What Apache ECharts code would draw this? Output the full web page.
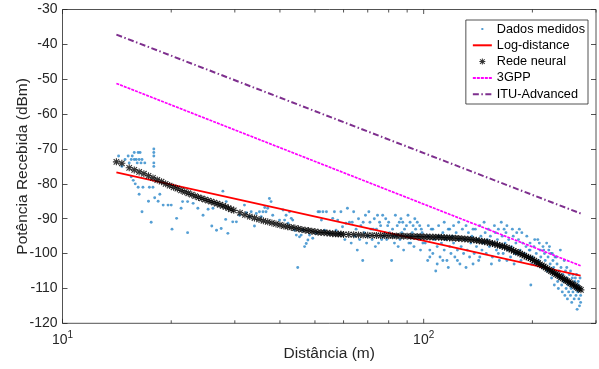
<!DOCTYPE html>
<html><head><meta charset="utf-8">
<script src="https://cdn.jsdelivr.net/npm/echarts@6/dist/echarts.min.js"></script>
<style>html,body{margin:0;padding:0;background:#fff}#c{width:599px;height:369px}</style>
</head><body><div id="c"></div>
<script>
// ---------------- data ----------------
const measuredPoints = [
 [14.3,-72],[14.6,-75],[14.9,-73],[15.2,-72],[15.3,-74],[15.5,-73],[15.5,-78],[15.6,-72],[15.7,-79],[15.8,-73],[15.8,-71],[15.9,-80],[16.0,-73],[16.1,-74],[16.2,-81],[16.2,-71],[16.3,-73],[16.3,-83],[16.4,-71],[16.5,-74],[16.6,-73],[16.6,-88],[16.7,-81],[16.9,-74],[17.3,-85],[17.4,-81],[17.6,-91],[17.8,-81],[17.9,-70],[17.9,-71],[17.9,-72],[17.9,-74],[17.9,-75],[18.0,-84],[18.4,-85],[18.6,-83],
 [19.0,-86.1],[19.6,-86.1],[20.0,-86.1],[20.1,-93.0],[20.7,-89.9],[21.3,-87.0],[21.5,-85.1],[22.2,-85.1],[22.2,-94.0],[23.0,-85.6],[23.7,-87.0],[24.5,-89.0],[25.3,-87.3],[26.1,-87.0],[25.9,-92.1],[26.7,-93.3],[27.5,-92.8],[27.8,-82.1],[28.3,-90.2],[28.4,-85.1],[28.7,-94.2],[29.6,-90.9],[30.3,-90.9],[30.9,-89.0],[31.9,-86.1],[32.3,-88.3],[32.9,-89.4],[33.3,-88.0],[34.0,-92.1],[34.4,-88.5],[35.1,-88.0],[35.5,-89.4],[35.9,-88.0],[36.3,-86.8],[36.6,-88.0],[37.0,-87.0],[37.4,-84.2],[37.8,-85.1],[38.2,-89.0],[39.9,-90.4],[40.8,-87.5],[41.2,-90.4],[41.6,-89.0],[42.1,-91.3],[42.5,-88.0],[43.0,-89.9],[43.4,-90.4],[43.9,-93.3],[44.4,-94.7],[44.8,-104.0],[45.3,-95.2],[45.8,-94.7],[46.3,-93.3],[46.8,-98.0],[47.3,-97.1],[47.8,-96.1],[48.3,-94.7],[49.3,-95.6],[50.4,-94.2],[51.0,-88.0],[51.5,-88.0],[52.1,-90.4],[52.6,-88.0],[53.2,-93.3],[53.8,-88.0],[54.8,-94.2],[56.0,-89.9],[56.6,-88.0],[57.2,-93.3],[57.8,-90.4],[58.4,-94.2],[59.0,-88.0],[59.6,-92.3],[60.9,-91.3],[61.5,-87.0],
 [62.3,-91],[63.4,-91],[64,-88],[64.5,-95],[65,-93],[66,-90],[66.5,-96],[67,-92],[67.8,-102],[68.5,-94],[69,-89],[69.5,-97],[70,-95],[71,-91],[71.5,-93],[72,-96],[73,-90],[73.5,-98],[74,-93],[75,-97],[75.5,-91],[76,-92],[77,-89],[77.5,-95],[78,-94],[79,-96],[79.5,-92],[80,-91],[81.5,-102],[82,-93],[82.5,-95],[83,-97],[84,-95],[84.5,-92],[85.6,-91],[86,-96],[87,-94],[87.5,-91],[88,-99],[89.6,-92],[90,-95],[91,-97],[91.7,-91],[92,-97],[93,-94],[93.5,-92],[94,-98],[95,-93],[96,-91],[96.5,-95],[97,-96],[98,-99],[98.5,-93],[99,-94],
 [60.5,-96],[63,-97],[65.5,-99],[68,-91],[70.5,-88],[72.5,-93],[74.5,-89],[76.5,-96],[78.5,-90],[80.5,-94],[83.5,-89],[85,-98],[86.5,-90],[88.5,-93],[90.5,-89],[92.5,-95],[94.5,-90],[97.5,-92],[99.5,-97],
 [101,-97],[102.6,-102],[103,-95],[104,-99],[105,-93],[106,-100],[107,-96],[108,-105],[109,-98],[110,-95],[111,-101],[112,-97],[113,-94],[114,-99],[115,-96],[116,-102],[117,-93],[118,-98],[119,-100],[120,-95],[121,-97],[122,-101],[123,-94],[124,-99],[125,-96],[126,-103],[127,-98],[128,-93],[129,-100],[130,-96],[132,-99],[133,-94],[134,-101],[135,-97],[136,-95],[138,-100],[139,-93],[140,-98],[141,-96],[142,-102],[144,-95],[145,-99],[146,-97],[148,-94],[149,-100],[150,-96],[152,-98],[153,-95],[155,-101],[156,-97],[158,-94],[159,-99],[160,-96],[162,-102],[163,-98],[165,-95],[166,-100],[168,-97],[169,-94],[171,-99],[172,-96],[174,-101],[175,-98],[177,-95],[178,-103],[180,-97],[182,-100],[183,-96],[185,-99],[186,-102],[188,-97],[190,-100],[192,-98],[193,-95],[195,-101],[197,-99],[199,-103],
 [103,-92],[106,-93],[110,-92],[114,-91],[118,-93],[121,-92],[125,-91],[131,-92],[137,-93],[143,-92],[147,-91],[151,-93],[157,-92],[161,-93],[164,-91],[167,-93],[170,-92],[176,-93],[181,-94],[184,-93],[187,-94],
 [104,-101],[109,-103],[113,-102],[117,-104],[124,-102],[131,-104],[137,-103],[143,-101],[154,-103],[161,-100],[170,-102],[179,-100],
 [196,-99],[197,-97],[198,-109],[200,-101],[202,-98],[204,-103],[205,-100],[207,-96],[208,-102],[210,-99],[211,-101],[213,-104],[214,-98],[216,-100],[217,-102],[219,-97],[220,-105],[221,-101],[222,-99],[224,-103],[225,-100],[226,-107],[228,-102],[229,-104],[230,-109],[231,-101],[232,-106],[234,-103],[235,-108],[236,-110],[237,-105],[238,-107],[240,-104],[241,-109],[242,-111],[243,-106],[244,-108],[246,-112],[247,-105],[248,-110],[249,-107],[250,-113],[251,-109],[252,-111],[253,-106],[254,-108],[255,-112],[256,-110],[257,-114],[258,-107],[259,-111],[260,-109],[261,-113],[262,-108],[263,-110],[264,-112],[265,-106],[266,-116],[267,-111],[268,-109],[269,-113],[270,-115],[271,-110],[272,-112],[272,-114],
 [203,-96],[209,-97],[215,-99],[223,-98],[227,-100],[233,-101],[239,-99],[245,-102],[249,-104],[255,-105],[259,-106],[263,-107],[268,-108],[271,-107]
];

const neuralDist = [
 14.1,14.6,
 15.3,15.8,16.3,16.8,17.3,17.8,18.3,18.8,19.3,19.8,20.3,20.8,21.3,21.8,22.3,22.8,23.3,23.8,24.3,24.8,25.3,25.8,26.3,26.8,27.3,27.8,28.3,28.8,29.3,29.8,
 31,32,33,34,35,36,37,38,39,40,41,42,43,44,45,46,47,48,49,50,51,52,53,54,55,56,57,58,59,60,
 62,64,66,68,70,72,74,76,78,80,82,84,86,88,90,92,94,96,98,100,102,104,106,108,110,112,114,116,118,120,
 122.5,125,127.5,130,132.5,135,137.5,140,142.5,145,147.5,150,152.5,155,157.5,160,162.5,165,167.5,170,172.5,175,177.5,180,182.5,185,187.5,190,192.5,195,197.5,200,202.5,205,207.5,210,212.5,215,217.5,220,222.5,225,227.5,230,232.5,235,237.5,240,242.5,245,247.5,250,252.5,255,257.5,260,262.5,265,267.5,270,272.5
];
const neuralPow = [
 -73.7,-74.1,
 -75.4,-76.0,-76.6,-77.1,-77.7,-78.3,-78.9,-79.4,-80.0,-80.5,-81.0,-81.4,-81.9,-82.3,-82.7,-83.1,-83.5,-83.9,-84.2,-84.5,-84.8,-85.1,-85.4,-85.7,-86.0,-86.3,-86.6,-87.0,-87.3,-87.6,
 -88.3,-88.9,-89.4,-89.8,-90.2,-90.6,-90.9,-91.2,-91.5,-91.8,-92.1,-92.3,-92.5,-92.7,-92.9,-93.1,-93.3,-93.4,-93.6,-93.7,-93.9,-93.95,-94.0,-94.1,-94.2,-94.3,-94.35,-94.4,-94.4,-94.5,
 -94.55,-94.6,-94.65,-94.7,-94.75,-94.8,-94.8,-94.85,-94.85,-94.9,-94.9,-94.95,-94.95,-95.0,-95.0,-95.05,-95.1,-95.1,-95.15,-95.2,-95.2,-95.25,-95.25,-95.3,-95.3,-95.35,-95.4,-95.45,-95.5,-95.55,
 -95.6,-95.66,-95.74,-95.81,-95.89,-95.96,-96.06,-96.2,-96.33,-96.47,-96.6,-96.73,-96.9,-97.1,-97.3,-97.5,-97.7,-97.9,-98.1,-98.3,-98.6,-98.9,-99.2,-99.5,-99.7,-100.0,-100.3,-100.6,-100.9,-101.1,-101.4,-101.7,-102.0,-102.4,-102.7,-103.1,-103.4,-103.7,-104.0,-104.4,-104.7,-105.0,-105.3,-105.6,-105.9,-106.2,-106.5,-106.8,-107.1,-107.4,-107.7,-107.9,-108.2,-108.5,-108.8,-109.0,-109.3,-109.6,-109.9,-110.1,-110.4
];

const modelDist = [14.1, 272];
const logDistancePow = [-76.7, -106.3];
const gppPow = [-51.2, -103.5];
const ituPow = [-37.2, -88.5];

const seriesNames = ['Dados medidos', 'Log-distance', 'Rede neural', '3GPP', 'ITU-Advanced'];
const xMajorTicks = [10, 100];
const xMinorTicks = [20, 30, 40, 50, 60, 70, 80, 90, 200, 300];
const xRange = [10, 300];
const yRange = [-120, -30];
const yStep = 10;
const xTitle = 'Distância (m)';
const yTitle = 'Potência Recebida (dBm)';

// ---------------- styling helpers ----------------
const FONT = '"Liberation Sans", Arial, Helvetica, sans-serif';
const AX = '#262626';

function asterisk(cx, cy, r, t) {
  const d = r * 0.78, e = t * 0.707;
  const P = (x, y) => (cx + x).toFixed(2) + ',' + (cy + y).toFixed(2);
  let s = '';
  s += 'M' + P(-r, -t) + ' L' + P(r, -t) + ' L' + P(r, t) + ' L' + P(-r, t) + ' Z ';
  s += 'M' + P(-t, -r) + ' L' + P(t, -r) + ' L' + P(t, r) + ' L' + P(-t, r) + ' Z ';
  s += 'M' + P(-d - e, -d + e) + ' L' + P(-d + e, -d - e) + ' L' + P(d + e, d - e) + ' L' + P(d - e, d + e) + ' Z ';
  s += 'M' + P(d - e, -d - e) + ' L' + P(d + e, -d + e) + ' L' + P(-d + e, d + e) + ' L' + P(-d - e, d - e) + ' Z';
  return s;
}
const starSymbol = 'path://' + asterisk(0, 0, 5, 0.8);
const LW = 19, LH = 12;
const legendStarIcon = 'path://M0,0 M' + LW + ',0 M' + LW + ',' + LH + ' M0,' + LH + ' ' + asterisk(LW / 2, LH / 2, 3, 0.5);
const legendDotIcon = 'path://M0,0 M' + LW + ',0 M' + LW + ',' + LH + ' M0,' + LH + ' M8.5,5 L10.5,5 L10.5,7 L8.5,7 Z';
const hiddenMarker = { color: 'rgba(0,0,0,0)', borderWidth: 0, opacity: 0 };

const pairs = (xs, ys) => xs.map((x, i) => [x, ys[i]]);
const isDecade = v => Math.abs(Math.log10(v) - Math.round(Math.log10(v))) < 1e-6;

const tickData = xMajorTicks.map(v => [v, yRange[0], 1]).concat(xMinorTicks.map(v => [v, yRange[0], 0]));

const chart = echarts.init(document.getElementById('c'), null, { renderer: 'canvas' });
chart.setOption({
  animation: false,
  backgroundColor: '#ffffff',
  textStyle: { fontFamily: FONT },
  grid: {
    left: 62.5, right: 3, top: 9.5, bottom: 45.7,
    show: true, borderColor: AX, borderWidth: 0.8, backgroundColor: '#ffffff',
    containLabel: false, outerBoundsMode: 'none'
  },
  legend: {
    orient: 'vertical', right: 11, top: 20,
    backgroundColor: '#ffffff', borderColor: AX, borderWidth: 0.8,
    padding: [2.5, 3, 3.3, 6], itemGap: 3.3, itemWidth: LW, itemHeight: LH,
    textStyle: { fontSize: 12.7, color: '#000', fontFamily: FONT },
    data: [
      { name: seriesNames[0], icon: legendDotIcon },
      { name: seriesNames[1], itemStyle: hiddenMarker },
      { name: seriesNames[2], icon: legendStarIcon },
      { name: seriesNames[3], itemStyle: hiddenMarker },
      { name: seriesNames[4], itemStyle: hiddenMarker }
    ]
  },
  xAxis: {
    type: 'log', logBase: 10, min: xRange[0], max: xRange[1],
    name: xTitle, nameLocation: 'middle', nameGap: 22, nameMoveOverlap: false,
    nameTextStyle: { fontSize: 15.5, color: AX, fontFamily: FONT },
    axisLine: { show: false }, axisTick: { show: false }, splitLine: { show: false }, minorTick: { show: false },
    axisLabel: {
      margin: 7, color: AX, showMinLabel: true, showMaxLabel: true,
      formatter: v => isDecade(v) ? '{b|10}{s|' + Math.round(Math.log10(v)) + '}' : '',
      rich: {
        b: { fontSize: 14, color: AX, fontFamily: FONT, verticalAlign: 'bottom' },
        s: { fontSize: 10, color: AX, fontFamily: FONT, verticalAlign: 'bottom', padding: [0, 0, 7, 0] }
      }
    }
  },
  yAxis: [
    {
      type: 'value', min: yRange[0], max: yRange[1], interval: yStep, position: 'left',
      name: yTitle, nameLocation: 'middle', nameGap: 32, nameMoveOverlap: false,
      nameTextStyle: { fontSize: 15.5, color: AX, fontFamily: FONT },
      axisLine: { show: false }, splitLine: { show: false },
      axisTick: { show: true, inside: true, length: 5, lineStyle: { color: AX, width: 0.8 } },
      axisLabel: { margin: 5, color: AX, fontSize: 14, fontFamily: FONT }
    },
    {
      type: 'value', min: yRange[0], max: yRange[1], interval: yStep, position: 'right',
      axisLine: { show: false }, splitLine: { show: false },
      axisTick: { show: true, inside: true, length: 5, lineStyle: { color: AX, width: 0.8 } },
      axisLabel: { show: false }
    }
  ],
  series: [
    {
      name: seriesNames[0], type: 'scatter', data: measuredPoints,
      symbol: 'circle', symbolSize: 2.9, itemStyle: { color: '#2b87c9' }, z: 2
    },
    {
      name: seriesNames[1], type: 'line', data: pairs(modelDist, logDistancePow),
      symbol: 'none', lineStyle: { color: '#ff0000', width: 1.8 }, itemStyle: { color: '#ff0000' }, z: 3
    },
    {
      name: seriesNames[2], type: 'scatter', data: pairs(neuralDist, neuralPow),
      symbol: starSymbol, symbolSize: 7, itemStyle: { color: '#000000' }, z: 4
    },
    {
      name: seriesNames[3], type: 'line', data: pairs(modelDist, gppPow),
      symbol: 'none', lineStyle: { color: '#ff00ff', width: 1.7, type: [3, 1] }, itemStyle: { color: '#ff00ff' }, z: 5
    },
    {
      name: seriesNames[4], type: 'line', data: pairs(modelDist, ituPow),
      symbol: 'none', lineStyle: { color: '#7e2f8e', width: 2, type: [6, 2.5, 1.5, 2.5] }, itemStyle: { color: '#7e2f8e' }, z: 6
    },
    {
      name: 'xticks', type: 'custom', data: tickData, encode: { x: 0, y: 1 }, clip: false, z: 10,
      silent: true,
      renderItem: function (params, api) {
        const x = api.value(0);
        const len = api.value(2) ? 4.5 : 3;
        const b = api.coord([x, yRange[0]]);
        const t = api.coord([x, yRange[1]]);
        const st = { stroke: AX, lineWidth: 0.8 };
        return {
          type: 'group', children: [
            { type: 'line', shape: { x1: b[0], y1: b[1], x2: b[0], y2: b[1] - len }, style: st },
            { type: 'line', shape: { x1: t[0], y1: t[1], x2: t[0], y2: t[1] + len }, style: st }
          ]
        };
      }
    }
  ]
});
</script>
</body></html>
